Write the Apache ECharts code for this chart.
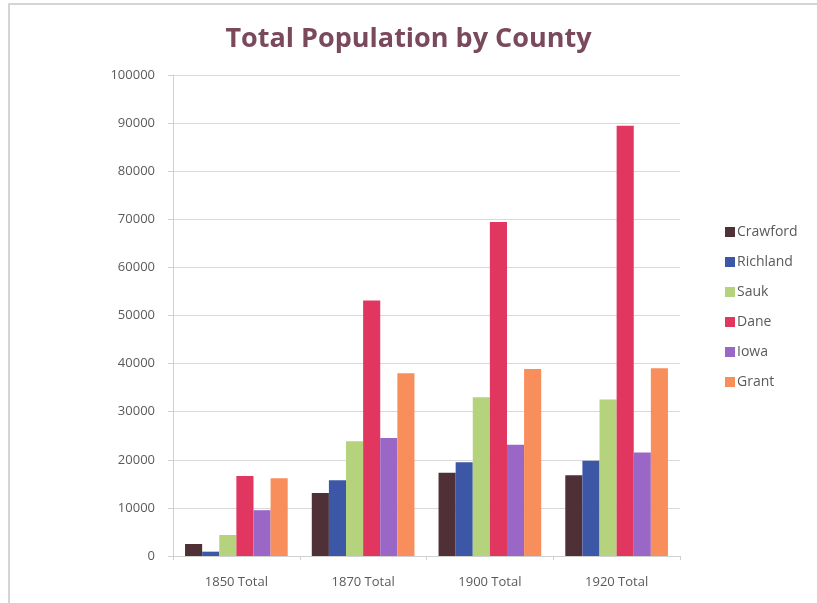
<!DOCTYPE html>
<html>
<head>
<meta charset="utf-8">
<script src="https://cdn.jsdelivr.net/npm/echarts@6/dist/echarts.min.js"></script>
<style>
  html, body { margin: 0; padding: 0; background: #fff; }
  #chart { width: 817px; height: 603px; }
</style>
</head>
<body>
<div id="chart"></div>
<script>
// Census totals per county
const categories = ['1850 Total', '1870 Total', '1900 Total', '1920 Total'];
const crawford = [2498, 13075, 17286, 16772];
const richland = [903, 15731, 19483, 19823];
const sauk = [4371, 23860, 33006, 32548];
const dane = [16639, 53096, 69435, 89432];
const iowa = [9525, 24544, 23114, 21504];
const grant = [16169, 37979, 38881, 39044];
const yTicks = [0, 10000, 20000, 30000, 40000, 50000, 60000, 70000, 80000, 90000, 100000];

const seriesDefs = [
  { name: 'Crawford', data: crawford, color: '#4e3036' },
  { name: 'Richland', data: richland, color: '#3d57a7' },
  { name: 'Sauk', data: sauk, color: '#b4d37c' },
  { name: 'Dane', data: dane, color: '#e0365f' },
  { name: 'Iowa', data: iowa, color: '#9a67c6' },
  { name: 'Grant', data: grant, color: '#f88e5b' }
];

const font = '"Open Sans", "Liberation Sans", sans-serif';
const chart = echarts.init(document.getElementById('chart'), null, { renderer: 'canvas' });

chart.setOption({
  animation: false,
  backgroundColor: '#ffffff',
  graphic: [{
    type: 'rect',
    shape: { x: 9, y: 4, width: 1000, height: 1000 },
    style: { fill: 'none', stroke: '#c8c8c8', lineWidth: 1.5 },
    silent: true
  }],
  title: {
    text: 'Total Population by County',
    left: 'center',
    top: 21,
    textStyle: { fontFamily: font, fontSize: 27, fontWeight: 'bold', color: '#7a4a5c' }
  },
  legend: {
    orient: 'vertical',
    left: 720,
    top: 220,
    itemWidth: 10,
    itemHeight: 10,
    itemGap: 16,
    icon: 'rect',
    textStyle: { fontFamily: font, fontSize: 14, color: '#5a5a5a', padding: [0, 0, 0, -3] },
    data: seriesDefs.map(s => s.name)
  },
  grid: { left: 173, right: 137, top: 75, bottom: 47, containLabel: false },
  xAxis: {
    type: 'category',
    data: categories,
    axisLine: { lineStyle: { color: '#d0d0d0' } },
    axisTick: { show: true, length: 4, lineStyle: { color: '#d0d0d0' } },
    axisLabel: { fontFamily: font, fontSize: 13, color: '#5a5a5a', margin: 20 }
  },
  yAxis: {
    type: 'value',
    min: yTicks[0],
    max: yTicks[yTicks.length - 1],
    interval: yTicks[1] - yTicks[0],
    axisLine: { show: true, lineStyle: { color: '#d0d0d0' } },
    axisTick: { show: true, length: 5, lineStyle: { color: '#d0d0d0' } },
    axisLabel: { fontFamily: font, fontSize: 13, color: '#5a5a5a', margin: 18, formatter: v => String(v) },
    splitLine: { lineStyle: { color: '#d9d9d9' } }
  },
  series: seriesDefs.map(s => ({
    name: s.name,
    type: 'bar',
    data: s.data,
    itemStyle: { color: s.color },
    barGap: '0%',
    barCategoryGap: '19%'
  }))
});
</script>
</body>
</html>
